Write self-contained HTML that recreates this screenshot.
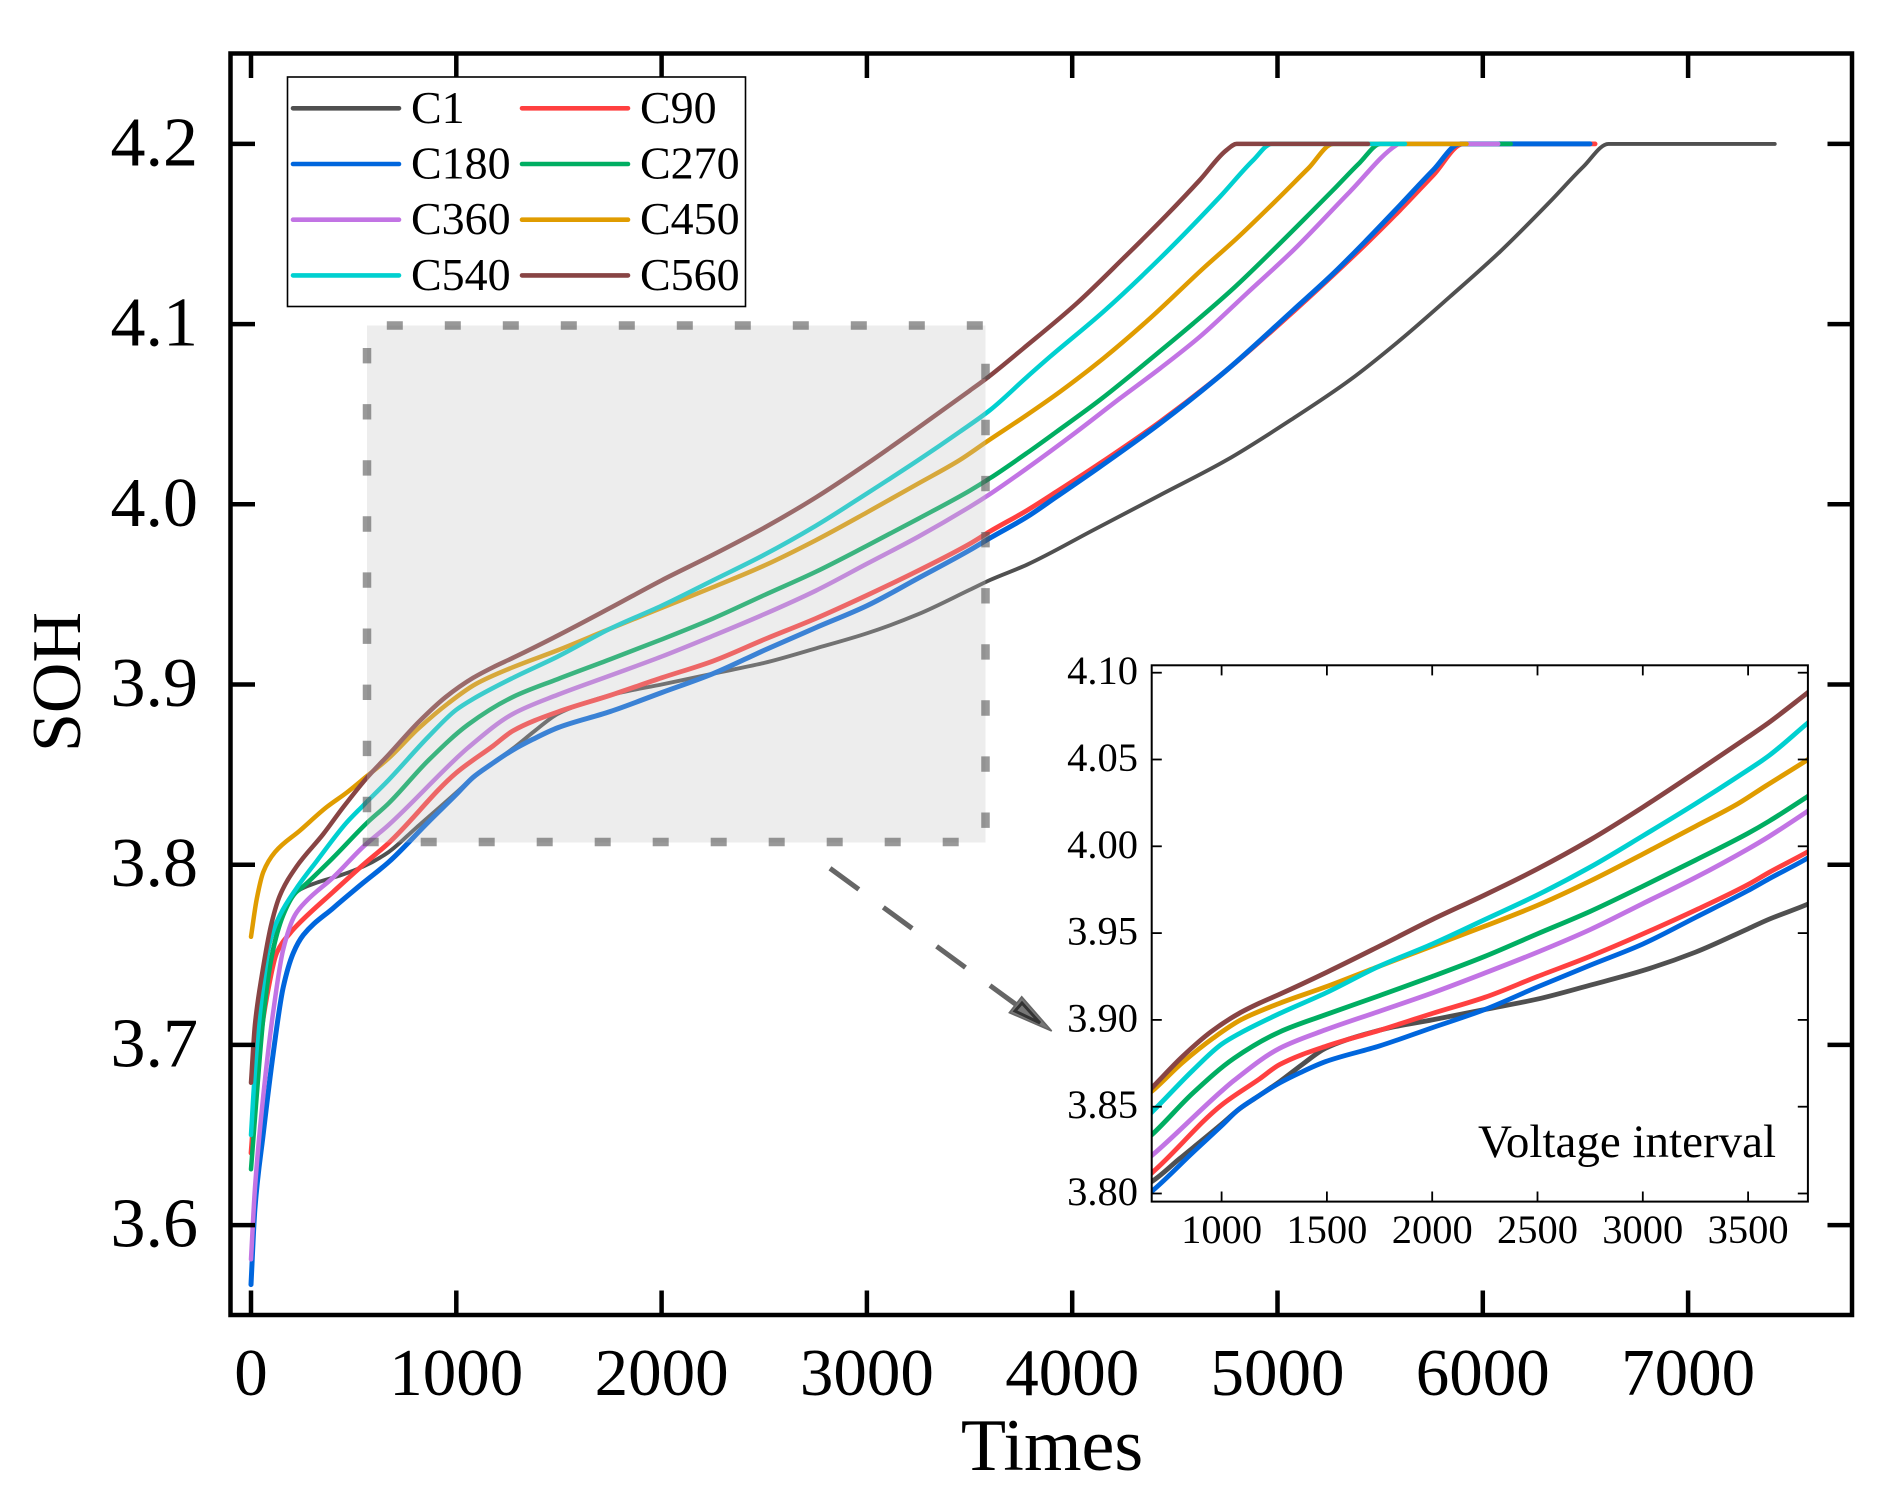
<!DOCTYPE html>
<html lang="en">
<head>
<meta charset="utf-8">
<title>SOH vs Times</title>
<style>
html,body{margin:0;padding:0;background:#fff;}
svg{display:block;font-family:"Liberation Serif",serif;fill:#000;}
</style>
</head>
<body>
<svg id="chart" xmlns="http://www.w3.org/2000/svg" width="1902" height="1497" viewBox="0 0 1902 1497">
  <rect x="0" y="0" width="1902" height="1497" fill="#fff"/>
  <defs>
    <clipPath id="mainClip"><rect x="230" y="53" width="1622" height="1262"/></clipPath>
    <clipPath id="insetClip"><rect x="1152" y="665" width="656" height="537"/></clipPath>
  </defs>
  <g id="mainLines" clip-path="url(#mainClip)"></g>
  <rect x="367" y="325.5" width="618.5" height="517" fill="rgb(195,195,195)" fill-opacity="0.3"/>
  <g stroke="#555" stroke-opacity="0.6" stroke-width="8.5" fill="none">
    <line x1="386.8" y1="325.5" x2="985" y2="325.5" stroke-dasharray="16 42"/>
    <line x1="362.7" y1="842" x2="985" y2="842" stroke-dasharray="16 42"/>
    <line x1="367" y1="348" x2="367" y2="835" stroke-dasharray="15.4 40.7"/>
    <line x1="985.5" y1="363.7" x2="985.5" y2="835" stroke-dasharray="15.4 40.7"/>
  </g>
  <g>
    <line x1="830" y1="868.3" x2="1018" y2="1006" stroke="#666" stroke-width="5" stroke-dasharray="35.7 30.4"/>
    <polygon points="1021.7,996.7 1009.3,1012.7 1051.7,1031" fill="#777" stroke="#666" stroke-width="1.5"/>
    <polygon points="1022,1003 1015,1011 1040,1023" fill="#777" stroke="#333" stroke-width="3"/>
  </g>
  <rect x="230.5" y="53.5" width="1621.5" height="1261.5" fill="none" stroke="#000" stroke-width="4.5"/>
  <g id="mainAxes"></g>
  <text transform="translate(80,682) rotate(-90)" font-size="70" text-anchor="middle">SOH</text>
  <text x="1052" y="1470" font-size="74" text-anchor="middle">Times</text>

  <g id="legend">
    <rect x="287.5" y="77" width="458" height="229.5" fill="#fff" stroke="#000" stroke-width="1.6"/>
  </g>

  <g id="insetLines" clip-path="url(#insetClip)"></g>
  <rect x="1151.7" y="665.3" width="656.2" height="536.3" fill="none" stroke="#000" stroke-width="2"/>
  <g id="insetAxes"></g>
  <text x="1478" y="1157" font-size="47">Voltage interval</text>
</svg>
<script>
// ---- axis tick labels ----
const xTicks = [0, 1000, 2000, 3000, 4000, 5000, 6000, 7000];
const yTicks = ["3.6", "3.7", "3.8", "3.9", "4.0", "4.1", "4.2"];
const insetXTicks = [1000, 1500, 2000, 2500, 3000, 3500];
const insetYTicks = ["3.80", "3.85", "3.90", "3.95", "4.00", "4.05", "4.10"];

// ---- series data ----
const seriesNames = ["C1", "C90", "C180", "C270", "C360", "C450", "C540", "C560"];
const seriesColors = ["#505050", "#ff4040", "#0066dd", "#00ae62", "#c274e4", "#e09c00", "#00d0d0", "#884444"];
const seriesWidths = [3.9, 4.8, 5, 4.5, 4.5, 4.5, 4.5, 4.5];

const c1Times = [0,28,60,101,157,222,320,433,547,670,800,1000,1082,1167,1276,1385,1494,1688,1800,2000,2250,2500,2750,3000,3250,3500,3600,3780,4103,4428,4753,5077,5353,5597,5840,6084,6327,6490,6612,7422];
const c1Soh = [3.64,3.675,3.715,3.75,3.773,3.785,3.79,3.794,3.799,3.807,3.82,3.84,3.8485,3.8555,3.8645,3.8745,3.8837,3.892,3.8955,3.90,3.906,3.912,3.92,3.9284,3.939,3.9525,3.958,3.9665,3.9857,4.0051,4.0246,4.0477,4.069,4.0911,4.1152,4.1402,4.1679,4.1874,4.2,4.2];

const c90Times = [0,36,76,125,190,239,401,547,670,1000,1180,1276,1500,1750,2000,2250,2500,2750,3000,3250,3500,3600,3780,3924,4135,4428,4753,5077,5434,5597,5759,5905,6547];
const c90Soh = [3.64,3.694,3.726,3.751,3.762,3.768,3.785,3.80,3.812,3.851,3.866,3.8743,3.885,3.894,3.9037,3.913,3.925,3.9366,3.9495,3.9632,3.978,3.985,3.9966,4.007,4.0227,4.0458,4.0745,4.1069,4.1448,4.1633,4.1827,4.2,4.2];

const c180Times = [0,19,60,109,157,206,255,401,547,670,864,1000,1082,1167,1276,1373,1494,1750,2000,2250,2500,2750,3000,3250,3500,3600,3780,3924,4135,4428,4753,5077,5272,5434,5597,5759,5890,6522];
const c180Soh = [3.567,3.609,3.651,3.696,3.732,3.751,3.761,3.776,3.79,3.8014,3.8237,3.839,3.8485,3.8555,3.8637,3.8696,3.876,3.885,3.8955,3.906,3.919,3.9315,3.9437,3.959,3.9745,3.9813,3.993,4.0042,4.0208,4.0449,4.0745,4.1078,4.1281,4.1466,4.166,4.1855,4.2,4.2];

const c270Times = [0,28,60,101,157,214,255,401,563,670,864,1058,1276,1494,1750,2000,2250,2500,2750,3000,3250,3500,3600,3780,3924,4135,4395,4590,4785,4996,5158,5272,5400,5502,6136];
const c270Soh = [3.631,3.672,3.715,3.749,3.772,3.784,3.788,3.804,3.823,3.834,3.8579,3.8778,3.8931,3.903,3.914,3.925,3.9366,3.9496,3.9625,3.977,3.992,4.0075,4.0145,4.0285,4.0403,4.0579,4.0819,4.1004,4.1198,4.143,4.1614,4.1745,4.1895,4.2,4.2];

const c360Times = [0,19,60,109,157,214,271,401,547,670,1000,1058,1276,1494,1750,2000,2250,2500,2750,3000,3250,3500,3600,3780,4022,4233,4428,4622,4850,5077,5353,5580,5590,6075];
const c360Soh = [3.581,3.62,3.672,3.719,3.753,3.772,3.78,3.793,3.81,3.822,3.859,3.865,3.8837,3.8943,3.905,3.9155,3.927,3.939,3.952,3.967,3.982,3.9985,4.0057,4.02,4.0403,4.0588,4.0754,4.093,4.117,4.141,4.1735,4.1994,4.2,4.2];

const c450Times = [0,28,60,117,239,369,466,563,670,815,961,1094,1276,1494,1750,2000,2250,2500,2750,3000,3250,3453,3583,3778,3941,4152,4379,4639,4801,4996,5150,5272,5921];
const c450Soh = [3.76,3.781,3.796,3.807,3.819,3.832,3.84,3.849,3.859,3.8755,3.8896,3.9002,3.9096,3.919,3.931,3.9425,3.954,3.966,3.98,3.9955,4.0115,4.0246,4.0347,4.0495,4.0625,4.081,4.1032,4.131,4.1475,4.1689,4.1864,4.2,4.2];

const c540Times = [0,19,52,93,141,222,320,466,547,670,864,1000,1082,1276,1494,1750,2000,2250,2500,2750,3000,3250,3453,3600,3780,3892,4152,4428,4720,4882,4972,5621];
const c540Soh = [3.65,3.685,3.726,3.7575,3.772,3.787,3.802,3.8234,3.8329,3.847,3.871,3.886,3.892,3.9037,3.9155,3.931,3.9437,3.9578,3.972,3.988,4.006,4.0245,4.0403,4.0523,4.0707,4.0819,4.1069,4.1365,4.1707,4.191,4.2,4.2];

const c560Times = [0,19,52,101,141,222,352,450,563,670,815,949,1082,1179,1276,1500,1750,2000,2250,2500,2750,3000,3250,3500,3583,3762,4022,4249,4460,4622,4752,4801,5441];
const c560Soh = [3.679,3.711,3.738,3.768,3.783,3.799,3.817,3.832,3.848,3.861,3.879,3.8931,3.9037,3.9096,3.9148,3.9275,3.9425,3.9578,3.972,3.987,4.0037,4.0225,4.0425,4.063,4.0699,4.0865,4.1115,4.1365,4.1605,4.18,4.1966,4.2,4.2];

const allTimes = [c1Times, c90Times, c180Times, c270Times, c360Times, c450Times, c540Times, c560Times];
const allSoh = [c1Soh, c90Soh, c180Soh, c270Soh, c360Soh, c450Soh, c540Soh, c560Soh];

const insetTimeMin = 668;
const insetTimeMax = 3783;

// ---- axis functions ----
function mainX(v){ return 251 + v * 0.2053; }
function mainY(v){ return 143.9 + (4.2 - v) * 1802; }
function insetX(v){ return 1221.6 + (v - 1000) * 0.2106; }
function insetY(v){ return 1193.5 - (v - 3.8) * 1736; }

const NS = "http://www.w3.org/2000/svg";
function make(tag, parent, attrs, txt){
  const el = document.createElementNS(NS, tag);
  for (const k in attrs) el.setAttribute(k, attrs[k]);
  if (txt !== undefined) el.textContent = txt;
  parent.appendChild(el);
  return el;
}

// monotone cubic path through the points
function curvePath(xs, ys){
  const n = xs.length, d = [], m = [];
  for (let i = 0; i < n - 1; i++) d.push((ys[i+1]-ys[i]) / (xs[i+1]-xs[i]));
  m.push(d[0]);
  for (let i = 1; i < n - 1; i++){
    if (d[i-1] * d[i] <= 0) m.push(0);
    else {
      const h0 = xs[i]-xs[i-1], h1 = xs[i+1]-xs[i];
      m.push(3 * (h0+h1) * d[i-1] * d[i] / ((2*h1+h0)*d[i] + (h1+2*h0)*d[i-1]));
    }
  }
  m.push(d[n-2]);
  let p = "M" + xs[0].toFixed(2) + " " + ys[0].toFixed(2);
  for (let i = 0; i < n - 1; i++){
    const h = (xs[i+1]-xs[i]) / 3;
    p += "C" + (xs[i]+h).toFixed(2) + " " + (ys[i]+m[i]*h).toFixed(2) + " " +
         (xs[i+1]-h).toFixed(2) + " " + (ys[i+1]-m[i+1]*h).toFixed(2) + " " +
         xs[i+1].toFixed(2) + " " + ys[i+1].toFixed(2);
  }
  return p;
}

// indices of the points that fall in the inset window, plus one on each side
function insetRange(times){
  let a = 0, b = times.length - 1;
  while (a < times.length - 1 && times[a + 1] < insetTimeMin) a++;
  while (b > 0 && times[b - 1] > insetTimeMax) b--;
  return [a, b + 1];
}

const mainLines = document.getElementById("mainLines");
const insetLines = document.getElementById("insetLines");
const legend = document.getElementById("legend");
const mainAxes = document.getElementById("mainAxes");
const insetAxes = document.getElementById("insetAxes");

// ---- series ----
seriesNames.forEach(function(name, i){
  const mainPath = make("path", mainLines, {
    d: curvePath(allTimes[i].map(mainX), allSoh[i].map(mainY)),
    fill: "none", stroke: seriesColors[i], "stroke-width": seriesWidths[i],
    "stroke-linecap": "round", "stroke-linejoin": "round"
  });
  
  
  const range = insetRange(allTimes[i]);
  const insetPath = make("path", insetLines, {
    d: curvePath(allTimes[i].slice(range[0], range[1]).map(insetX), allSoh[i].slice(range[0], range[1]).map(insetY)),
    fill: "none", stroke: seriesColors[i], "stroke-width": 4.8,
    "stroke-linecap": "round", "stroke-linejoin": "round"
  });
  
  

  // legend entries, two columns
  const col = i % 2, row = Math.floor(i / 2);
  const lx = col === 0 ? 293 : 522;
  const ly = 108.3 + row * 55.7;
  const sw = make("line", legend, {
    x1: lx, y1: ly, x2: lx + 106, y2: ly,
    stroke: seriesColors[i], "stroke-width": 4.6, "stroke-linecap": "round"
  });
  
  
  const lb = make("text", legend, { x: col === 0 ? 411 : 640, y: ly + 14.5, "font-size": 46 }, name);
  
  
});

// ---- main axes ----
xTicks.forEach(function(t){
  const x = mainX(t);
  const bt = make("line", mainAxes, { x1: x, y1: 1315, x2: x, y2: 1290.5, stroke: "#000", "stroke-width": 4.5 });
  
  
  const tt = make("line", mainAxes, { x1: x, y1: 53.5, x2: x, y2: 78, stroke: "#000", "stroke-width": 4.5 });
  
  
  const lb = make("text", mainAxes, { x: x, y: 1395, "font-size": 67, "text-anchor": "middle" }, String(t));
  
  
});
yTicks.forEach(function(t){
  const y = mainY(Number(t));
  const lt = make("line", mainAxes, { x1: 230.5, y1: y, x2: 255, y2: y, stroke: "#000", "stroke-width": 4.5 });
  
  
  const rt = make("line", mainAxes, { x1: 1852, y1: y, x2: 1827.5, y2: y, stroke: "#000", "stroke-width": 4.5 });
  
  
  const lb = make("text", mainAxes, { x: 198, y: y + 21.5, "font-size": 70, "text-anchor": "end" }, t);
  
  
});

// ---- inset axes ----
insetXTicks.forEach(function(t){
  const x = insetX(t);
  const bt = make("line", insetAxes, { x1: x, y1: 1201.6, x2: x, y2: 1191.5, stroke: "#000", "stroke-width": 1.8 });
  
  
  const tt = make("line", insetAxes, { x1: x, y1: 665.3, x2: x, y2: 675.4, stroke: "#000", "stroke-width": 1.8 });
  
  
  const lb = make("text", insetAxes, { x: x, y: 1243, "font-size": 40.5, "text-anchor": "middle" }, String(t));
  
  
});
insetYTicks.forEach(function(t){
  const y = insetY(Number(t));
  const lt = make("line", insetAxes, { x1: 1151.7, y1: y, x2: 1161.8, y2: y, stroke: "#000", "stroke-width": 1.8 });
  
  
  const rt = make("line", insetAxes, { x1: 1807.9, y1: y, x2: 1797.8, y2: y, stroke: "#000", "stroke-width": 1.8 });
  
  
  const lb = make("text", insetAxes, { x: 1138, y: y + 11.5, "font-size": 40.5, "text-anchor": "end" }, t);
  
  
});
</script>
</body>
</html>
